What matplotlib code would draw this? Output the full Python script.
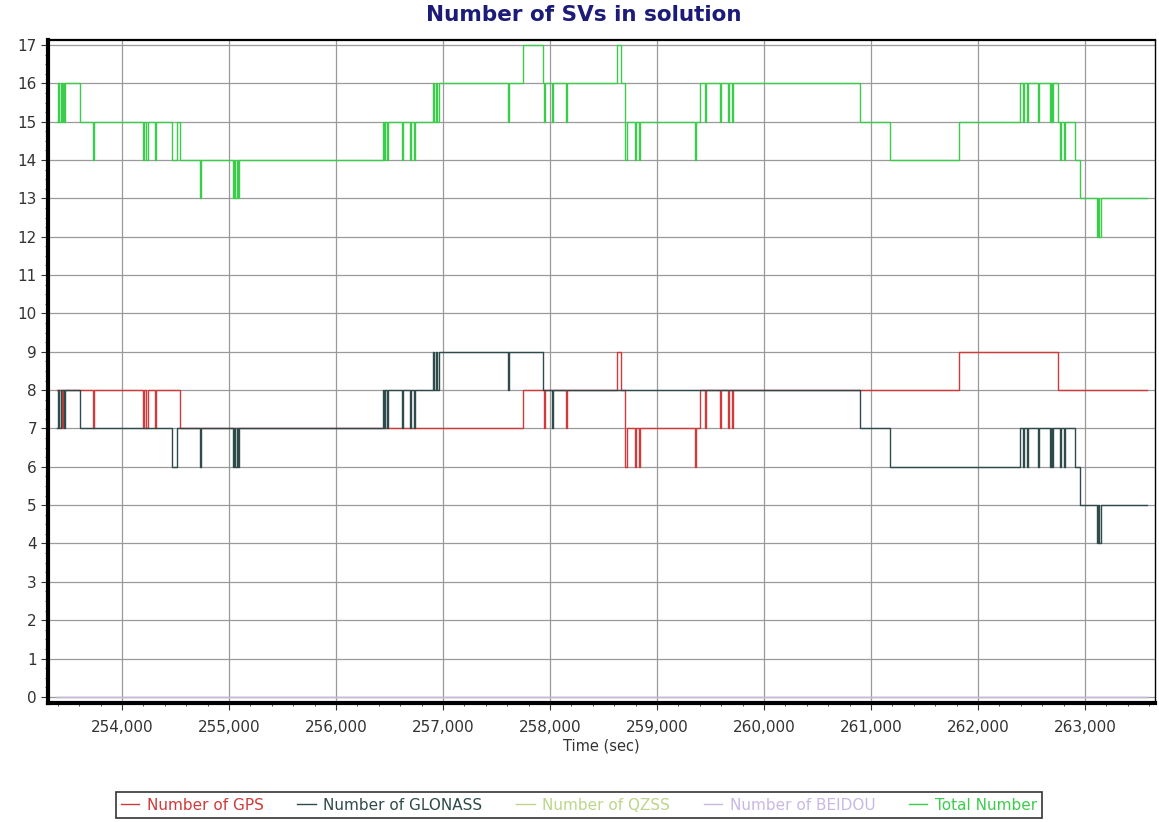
import matplotlib
matplotlib.use('Agg')
import matplotlib.pyplot as plt
from matplotlib.ticker import MultipleLocator, FuncFormatter

# change points (time in sec, value held until the next time)
gps_t = [253390, 253440, 253450, 253725, 253735, 254195, 254205, 254225, 254240,
         254305, 254315, 254540, 257750, 257940, 257955, 258150, 258160, 258625,
         258660, 258700, 258715, 258790, 258800, 258830, 258840, 259355, 259365,
         259400, 259450, 259460, 259590, 259600, 259665, 259675, 259700, 259710,
         261820, 262750, 263580]
gps_v = [8, 7, 8, 7, 8, 7, 8, 7, 8,
         7, 8, 7, 8, 7, 8, 7, 8, 9,
         8, 6, 7, 6, 7, 6, 7, 6, 7,
         8, 7, 8, 7, 8, 7, 8, 7, 8,
         9, 8, 8]

glo_t = [253390, 253400, 253415, 253425, 253460, 253470, 253605, 254465, 254515,
         254730, 254740, 255040, 255050, 255060, 255075, 255085, 255095, 256440,
         256450, 256460, 256475, 256485, 256615, 256625, 256690, 256700, 256725,
         256740, 256905, 256915, 256930, 256945, 256960, 257605, 257615, 257935,
         258020, 258030, 260895, 261180, 262390, 262420, 262430, 262460, 262470,
         262560, 262570, 262670, 262680, 262695, 262705, 262765, 262775, 262805,
         262815, 262905, 262950, 263110, 263120, 263135, 263145, 263580]
glo_v = [7, 8, 7, 8, 7, 8, 7, 6, 7,
         6, 7, 6, 7, 6, 7, 6, 7, 8,
         7, 8, 7, 8, 7, 8, 7, 8, 7,
         8, 9, 8, 9, 8, 9, 8, 9, 8,
         7, 8, 7, 6, 7, 6, 7, 6, 7,
         6, 7, 6, 7, 6, 7, 6, 7, 6,
         7, 6, 5, 4, 5, 4, 5, 5]

qzss_t = [253390, 263580]
qzss_v = [0, 0]
beidou_t = [253390, 263580]
beidou_v = [0, 0]

total_t = [253390, 253400, 253415, 253425, 253440, 253450, 253460, 253470, 253605,
           253725, 253735, 254195, 254205, 254225, 254240, 254305, 254315, 254465,
           254515, 254540, 254730, 254740, 255040, 255050, 255060, 255075, 255085,
           255095, 256440, 256450, 256460, 256475, 256485, 256615, 256625, 256690,
           256700, 256725, 256740, 256905, 256915, 256930, 256945, 256960, 257605,
           257615, 257750, 257935, 257940, 257955, 258020, 258030, 258150, 258160,
           258625, 258660, 258700, 258715, 258790, 258800, 258830, 258840, 259355,
           259365, 259400, 259450, 259460, 259590, 259600, 259665, 259675, 259700,
           259710, 260895, 261180, 261820, 262390, 262420, 262430, 262460, 262470,
           262560, 262570, 262670, 262680, 262695, 262705, 262750, 262765, 262775,
           262805, 262815, 262905, 262950, 263110, 263120, 263135, 263145, 263580]
total_v = [15, 16, 15, 16, 15, 16, 15, 16, 15,
           14, 15, 14, 15, 14, 15, 14, 15, 14,
           15, 14, 13, 14, 13, 14, 13, 14, 13,
           14, 15, 14, 15, 14, 15, 14, 15, 14,
           15, 14, 15, 16, 15, 16, 15, 16, 15,
           16, 17, 16, 15, 16, 15, 16, 15, 16,
           17, 16, 14, 15, 14, 15, 14, 15, 14,
           15, 16, 15, 16, 15, 16, 15, 16, 15,
           16, 15, 14, 15, 16, 15, 16, 15, 16,
           15, 16, 15, 16, 15, 16, 15, 14, 15,
           14, 15, 14, 13, 12, 13, 12, 13, 13]

series = [
    (gps_t, gps_v, 'Number of GPS', '#d03a3a'),
    (glo_t, glo_v, 'Number of GLONASS', '#2f4a4a'),
    (qzss_t, qzss_v, 'Number of QZSS', '#bcd68a'),
    (beidou_t, beidou_v, 'Number of BEIDOU', '#c8b8e6'),
    (total_t, total_v, 'Total Number', '#3ccc4c'),
]

W, H = 1159, 822
fig = plt.figure(figsize=(W / 100, H / 100), dpi=100)
ax = fig.add_axes([48 / W, 1 - 703 / H, (1155 - 48) / W, (703 - 40) / H])

for t, v, lbl, c in series:
    ax.plot(t, v, drawstyle='steps-post', color=c, lw=1.0, label=lbl, zorder=3)

ax.set_xlim(253308, 263654)
ax.set_ylim(-0.16, 17.13)
ax.xaxis.set_major_locator(MultipleLocator(1000))
ax.xaxis.set_minor_locator(MultipleLocator(200))
ax.yaxis.set_major_locator(MultipleLocator(1))
ax.yaxis.set_minor_locator(MultipleLocator(0.25))
ax.xaxis.set_major_formatter(FuncFormatter(lambda x, p: f'{int(x):,}'))
ax.grid(True, which='major', color='#9a9a9a', lw=0.9, zorder=0)
ax.tick_params(axis='x', which='major', labelsize=11, length=5, pad=7, color='#333333', labelcolor='#333333')
ax.tick_params(axis='y', which='major', labelsize=11, length=5, pad=3, color='#333333', labelcolor='#333333')
ax.tick_params(axis='both', which='minor', length=2.5, color='#333333')
for s in ['left', 'bottom']:
    ax.spines[s].set_linewidth(3)
ax.spines['top'].set_linewidth(1.6)
ax.spines['right'].set_linewidth(1)
ax.set_xlabel('Time (sec)', fontsize=10.5, color='#333333', labelpad=3)

fig.text(584 / W, 1 - 15 / H, 'Number of SVs in solution', ha='center', va='center',
         fontsize=15.5, fontweight='bold', color='#1c1c78')

leg = fig.legend(loc='center', bbox_to_anchor=(579 / W, 1 - 805 / H), ncol=5,
                 fontsize=11, frameon=True, fancybox=False, edgecolor='black',
                 handlelength=1.2, handletextpad=0.5, columnspacing=2.2,
                 borderpad=0.35, labelcolor='linecolor')
leg.get_frame().set_linewidth(1.2)

fig.savefig('out.png', dpi=100)
